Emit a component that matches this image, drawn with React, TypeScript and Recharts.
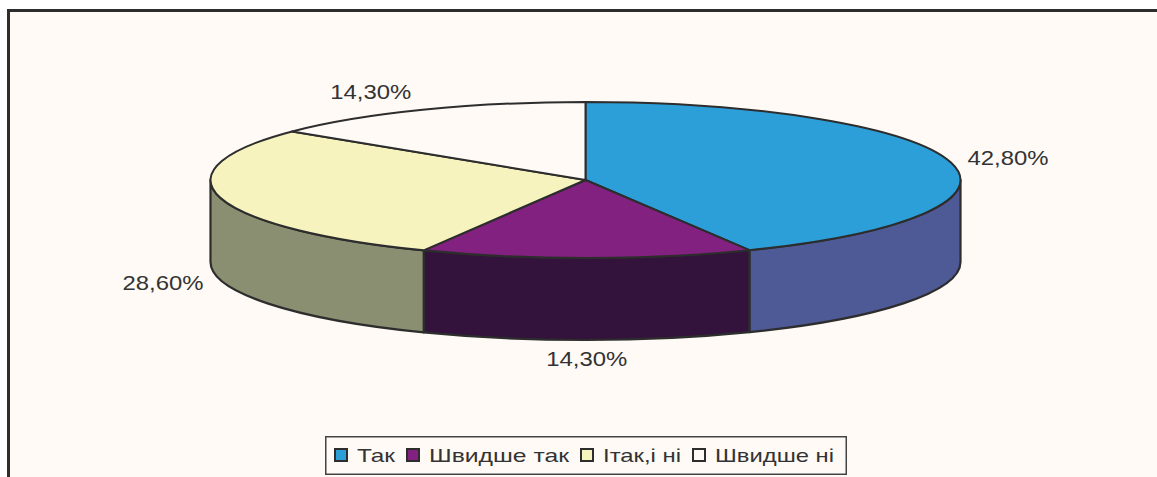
import { PieChart, Pie, Legend } from 'recharts';

const categories = ['Так', 'Швидше так', 'Ітак,і ні', 'Швидше ні'];
const shares = [42.8, 14.3, 28.6, 14.3];

const TOP_COLORS = ['#2C9FD9', '#82217F', '#F6F3BE', '#FFFAF6'];
const WALL_COLORS = ['#4D5A96', '#33123B', '#8B8F71', '#FFFAF6'];
const LEGEND_TEXT_WIDTHS = [38, 140, 78, 119];

const STROKE = '#2D2D2D';
const TEXT = '#333333';
const FONT = '"Liberation Sans", Arial, sans-serif';

const Y_SQUASH = 78 / 375; // tilt of the disc
const DEPTH = 82;

const data = categories.map((name, i) => ({ name, value: shares[i], fill: TOP_COLORS[i] }));

const RAD = Math.PI / 180;

function point(cx: number, cy: number, r: number, angle: number) {
  return [cx + r * Math.cos(angle * RAD), cy - r * Y_SQUASH * Math.sin(angle * RAD)];
}

// one slice of the disc: the wall first, then the top face
function Slice3D(props: any) {
  const { cx, cy, outerRadius: r, startAngle, endAngle, fill } = props;
  const ry = r * Y_SQUASH;
  const [sx, sy] = point(cx, cy, r, startAngle);
  const [ex, ey] = point(cx, cy, r, endAngle);
  const large = startAngle - endAngle > 180 ? 1 : 0;
  const top = `M${cx},${cy} L${sx},${sy} A${r},${ry} 0 ${large} 1 ${ex},${ey} Z`;

  // only the front half of the rim is visible
  const from = Math.min(startAngle, 0);
  const to = Math.max(endAngle, -180);
  let wall = null;
  if (from > to) {
    const [ax, ay] = point(cx, cy, r, from);
    const [bx, by] = point(cx, cy, r, to);
    const d = `M${ax},${ay} A${r},${ry} 0 0 1 ${bx},${by} L${bx},${by + DEPTH} A${r},${ry} 0 0 0 ${ax},${ay + DEPTH} Z`;
    wall = <path d={d} fill={WALL_COLORS[TOP_COLORS.indexOf(fill)]} stroke={STROKE} strokeWidth={2.2} strokeLinejoin="round" />;
  }

  return (
    <g>
      {wall}
      <path d={top} fill={fill} stroke={STROKE} strokeWidth={2} strokeLinejoin="round" />
    </g>
  );
}

function renderLabel(props: any) {
  const { cx, cy, outerRadius, midAngle, value } = props;
  const [px, py] = point(cx, cy, outerRadius, midAngle);
  const cos = Math.cos(midAngle * RAD);
  const sin = Math.sin(midAngle * RAD);
  const x = px + cos * 17 - (sin > 0.5 ? 4 : 0);
  const y = py - sin * 20 + (sin < 0 ? DEPTH - 1 : 0);
  const anchor = Math.abs(cos) < 0.1 ? 'middle' : cos > 0 ? 'start' : 'end';
  return (
    <text
      x={x}
      y={y}
      dy={7}
      textAnchor={anchor}
      fontFamily={FONT}
      fontSize={20}
      fill={TEXT}
      textLength={81}
      lengthAdjust="spacingAndGlyphs"
    >
      {value.toFixed(2).replace('.', ',') + '%'}
    </text>
  );
}

function LegendBox({ payload }: any) {
  let x = 8;
  return (
    <svg width={522} height={39} style={{ display: 'block' }}>
      <rect x={0.75} y={0.75} width={520.5} height={37.5} fill="#FFFAF6" stroke="#444444" strokeWidth={1.5} />
      {(payload || []).map((item: any, i: number) => {
        const swatchX = x;
        const textX = swatchX + 24;
        x = textX + LEGEND_TEXT_WIDTHS[i] + 10;
        return (
          <g key={item.value}>
            <rect x={swatchX + 2} y={13} width={12} height={12} fill={item.color} stroke={STROKE} strokeWidth={2} />
            <text
              x={textX}
              y={26}
              fontFamily={FONT}
              fontSize={19}
              fill={TEXT}
              textLength={LEGEND_TEXT_WIDTHS[i]}
              lengthAdjust="spacingAndGlyphs"
            >
              {item.value}
            </text>
          </g>
        );
      })}
    </svg>
  );
}

export default function App() {
  return (
    <div style={{ position: 'absolute', left: 0, top: 0, width: 1157, height: 477, overflow: 'hidden', background: '#FFFFFF' }}>
      {/* frame has only a top and a left rule */}
      <div
        style={{
          position: 'absolute',
          left: 7,
          top: 9,
          right: 0,
          bottom: 0,
          background: '#FFFAF6',
          borderLeft: `3px solid ${STROKE}`,
          borderTop: `3px solid ${STROKE}`,
        }}
      />
      <div style={{ position: 'absolute', left: 0, top: 0 }}>
        <PieChart width={1157} height={477} margin={{ top: 0, right: 0, bottom: 0, left: 0 }}>
          <Pie
            data={data}
            dataKey="value"
            nameKey="name"
            cx={585.5}
            cy={180}
            innerRadius={0}
            outerRadius={375}
            startAngle={90}
            endAngle={-270}
            paddingAngle={0}
            shape={Slice3D}
            label={renderLabel}
            labelLine={false}
            isAnimationActive={false}
          />
          <Legend
            content={<LegendBox />}
            itemSorter={null}
            wrapperStyle={{ position: 'absolute', left: 325, top: 436, width: 522, height: 39 }}
          />
        </PieChart>
      </div>
    </div>
  );
}
